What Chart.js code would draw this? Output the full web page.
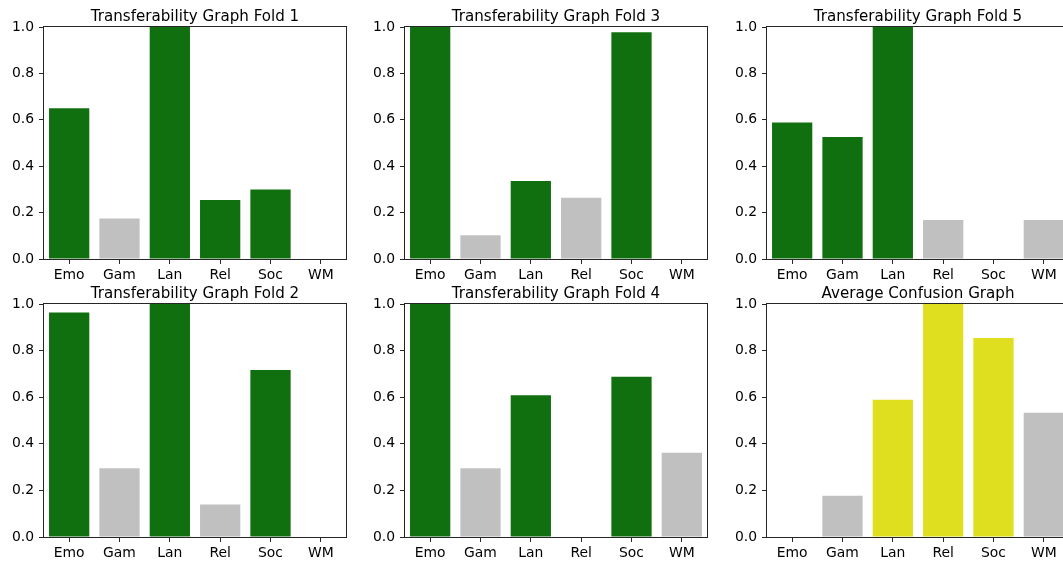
<!DOCTYPE html>
<html>
<head>
<meta charset="utf-8">
<script src="https://cdn.jsdelivr.net/npm/chart.js@4/dist/chart.umd.min.js"></script>
<style>
  html, body { margin: 0; padding: 0; background: #fff; overflow: hidden; }
  body { width: 1063px; height: 566px; position: relative; }
  canvas { position: absolute; }
</style>
</head>
<body>
<script>
// Categories shared by every panel
const categories = ['Emo', 'Gam', 'Lan', 'Rel', 'Soc', 'WM'];
const yTicks = [0, 0.2, 0.4, 0.6, 0.8, 1.0];

// Transferability scores per fold
const fold1 = [0.65, 0.175, 1.0, 0.254, 0.30, 0];
const fold2 = [0.964, 0.295, 1.0, 0.139, 0.717, 0];
const fold3 = [1.0, 0.102, 0.336, 0.264, 0.977, 0];
const fold4 = [1.0, 0.295, 0.608, 0, 0.688, 0.362];
const fold5 = [0.588, 0.526, 1.0, 0.168, 0, 0.168];
const averageConfusion = [0, 0.177, 0.589, 1.0, 0.854, 0.533];

// 1 = category counted as transferable / confused, 0 = not
const fold1Flag = [1, 0, 1, 1, 1, 0];
const fold2Flag = [1, 0, 1, 0, 1, 0];
const fold3Flag = [1, 0, 1, 0, 1, 0];
const fold4Flag = [1, 0, 1, 0, 1, 0];
const fold5Flag = [1, 1, 1, 0, 0, 0];
const averageFlag = [0, 0, 1, 1, 1, 0];

const GREEN = '#107010';
const YELLOW = '#dfdf20';
const SILVER = '#c0c0c0';
const INK = '#262626';
const FONT = { family: "'DejaVu Sans', sans-serif", size: 13.9, weight: 'normal' };
const TITLE_FONT = { family: "'DejaVu Sans', sans-serif", size: 15.1, weight: 'normal' };

// Panel grid: plot-area geometry
const Y_AXIS_W = 44;
const TITLE_H = 27;
const X_AXIS_H = 28;
const RIGHT_PAD = 4;
const colLeft = [44, 405, 767];
const plotW = 302;
const rowTop = [27, 304];
const plotH = [232, 233];

const panels = [
  { title: 'Transferability Graph Fold 1', values: fold1, flags: fold1Flag, on: GREEN, row: 0, col: 0 },
  { title: 'Transferability Graph Fold 3', values: fold3, flags: fold3Flag, on: GREEN, row: 0, col: 1 },
  { title: 'Transferability Graph Fold 5', values: fold5, flags: fold5Flag, on: GREEN, row: 0, col: 2 },
  { title: 'Transferability Graph Fold 2', values: fold2, flags: fold2Flag, on: GREEN, row: 1, col: 0 },
  { title: 'Transferability Graph Fold 4', values: fold4, flags: fold4Flag, on: GREEN, row: 1, col: 1 },
  { title: 'Average Confusion Graph', values: averageConfusion, flags: averageFlag, on: YELLOW, row: 1, col: 2 }
];

// Draws the full rectangular frame around the plot area
const frame = {
  id: 'frame',
  afterDatasetsDraw(chart) {
    const a = chart.chartArea;
    const ctx = chart.ctx;
    ctx.save();
    ctx.strokeStyle = INK;
    ctx.lineWidth = 1;
    const l = Math.round(a.left) - 0.5, t = Math.round(a.top) - 0.5;
    const r = Math.round(a.right) + 0.5, b = Math.round(a.bottom) + 0.5;
    ctx.strokeRect(l, t, r - l, b - t);
    ctx.restore();
  }
};

panels.forEach(p => {
  const cv = document.createElement('canvas');
  const w = Y_AXIS_W + plotW + RIGHT_PAD;
  const h = TITLE_H + plotH[p.row] + X_AXIS_H;
  cv.width = w; cv.height = h;
  cv.style.width = w + 'px'; cv.style.height = h + 'px';
  cv.style.left = (colLeft[p.col] - Y_AXIS_W) + 'px';
  cv.style.top = (rowTop[p.row] - TITLE_H) + 'px';
  document.body.appendChild(cv);

  new Chart(cv, {
    type: 'bar',
    data: {
      labels: categories,
      datasets: [{
        data: p.values,
        backgroundColor: p.flags.map(f => f ? p.on : SILVER),
        borderWidth: 0,
        categoryPercentage: 0.8,
        barPercentage: 1.0
      }]
    },
    options: {
      responsive: false,
      animation: false,
      devicePixelRatio: 1,
      layout: { padding: { left: 0, right: RIGHT_PAD, top: 0, bottom: 0 } },
      plugins: {
        legend: { display: false },
        tooltip: { enabled: false },
        title: {
          display: true,
          fullSize: false,
          text: p.title,
          color: '#000',
          font: TITLE_FONT,
          padding: { top: 7.6, bottom: 1.3 }
        }
      },
      scales: {
        x: {
          offset: true,
          grid: { offset: false, drawOnChartArea: false, drawTicks: true, tickLength: 5, color: INK },
          border: { display: false },
          ticks: { color: '#000', font: FONT, padding: 3, maxRotation: 0, autoSkip: false },
          afterFit(s) { s.height = X_AXIS_H; }
        },
        y: {
          min: 0, max: 1,
          grid: { drawOnChartArea: false, drawTicks: true, tickLength: 5, color: INK },
          border: { display: false },
          afterBuildTicks(s) { s.ticks = yTicks.map(v => ({ value: v })); },
          ticks: {
            color: '#000', font: FONT, padding: 5,
            callback: v => Number(v).toFixed(1)
          },
          afterFit(s) { s.width = Y_AXIS_W; }
        }
      }
    },
    plugins: [frame]
  });
});
</script>
</body>
</html>
